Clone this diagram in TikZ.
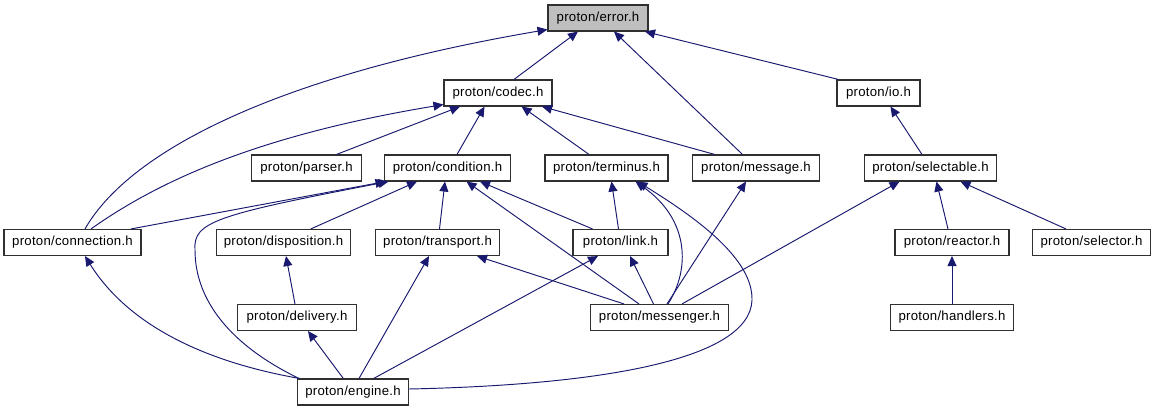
\documentclass[tikz,border=0pt]{standalone}
\usepackage{fontspec}
\setmainfont{Liberation Sans}[LetterSpace=2]
\usetikzlibrary{arrows.meta}
\definecolor{edgeblue}{HTML}{191970}
\definecolor{rootgray}{HTML}{BFBFBF}
\definecolor{boxline}{HTML}{303030}
\begin{document}
\begin{tikzpicture}[x=1pt,y=-1pt,
  box/.style={draw=boxline,line width=1.1pt,fill=white,minimum height=26pt,inner sep=0pt,
    font=\fontsize{13.2}{15}\selectfont},
  rootbox/.style={box,fill=rootgray},
  edge/.style={draw=edgeblue,line width=0.95pt,-{Triangle[length=10pt,width=9pt]}}]
\useasboundingbox[fill=white] (0,0) rectangle (1156,411);
% nodes
\node[rootbox,minimum width=100pt] (error) at (598,18) {proton/error.h};
\node[box,minimum width=108pt] (codec) at (498,93) {proton/codec.h};
\node[box,minimum width=83pt] (io) at (878.5,93) {proton/io.h};
\node[box,minimum width=110pt] (parser) at (306.5,168) {proton/parser.h};
\node[box,minimum width=126pt] (condition) at (447.5,168) {proton/condition.h};
\node[box,minimum width=123pt] (terminus) at (606.5,168) {proton/terminus.h};
\node[box,minimum width=127pt] (message) at (756,168) {proton/message.h};
\node[box,minimum width=132pt] (selectable) at (930.5,168) {proton/selectable.h};
\node[box,minimum width=137pt] (connection) at (72.5,242.5) {proton/connection.h};
\node[box,minimum width=134pt] (disposition) at (283.5,242.5) {proton/disposition.h};
\node[box,minimum width=124pt] (transport) at (437.5,242.5) {proton/transport.h};
\node[box,minimum width=95pt] (link) at (620.5,242.5) {proton/link.h};
\node[box,minimum width=114pt] (reactor) at (952,242.5) {proton/reactor.h};
\node[box,minimum width=118pt] (selector) at (1091.5,242.5) {proton/selector.h};
\node[box,minimum width=119pt] (delivery) at (297,317.5) {proton/delivery.h};
\node[box,minimum width=137.6pt] (messenger) at (659.5,317.5) {proton/messenger.h};
\node[box,minimum width=123pt] (handlers) at (952,317.5) {proton/handlers.h};
\node[box,minimum width=111pt] (engine) at (353,392) {proton/engine.h};
% edges into error
\draw[edge] ([xshift=16pt]codec.north) -- ([xshift=-20pt]error.south);
\draw[edge] ([xshift=-13.5pt]message.north) -- ([xshift=16pt]error.south);
\draw[edge] ([xshift=-40pt]io.north) -- ([xshift=47pt]error.south);
\draw[edge] ([xshift=12.5pt]connection.north) .. controls (130,150) and (280,75) .. ([yshift=2pt]error.south west);
% edges into codec
\draw[edge] ([xshift=30pt]parser.north) -- ([xshift=-38pt]codec.south);
\draw[edge] ([xshift=9.5pt]condition.north) -- ([xshift=-13.5pt]codec.south);
\draw[edge] ([xshift=-17.5pt]terminus.north) -- ([xshift=23.6pt]codec.south);
\draw[edge] ([xshift=-41.3pt]message.north) -- ([xshift=44pt]codec.south);
\draw[edge] ([xshift=18.5pt]connection.north) .. controls (160,180) and (260,135) .. ([yshift=2pt]codec.south west);
% io
\draw[edge] ([xshift=-8.5pt]selectable.north) -- ([xshift=12pt]io.south);
% edges into condition
\draw[edge] ([xshift=58.5pt]connection.north) -- ([xshift=-62pt]condition.south);
\draw[edge] ([xshift=27.3pt]disposition.north) -- ([xshift=-30.5pt]condition.south);
\draw[edge] ([xshift=2pt]transport.north) -- ([xshift=-2.5pt]condition.south);
\draw[edge] ([xshift=-28pt]link.north) -- ([xshift=32.5pt]condition.south);
\draw[edge] ([xshift=-20.5pt]messenger.north) -- ([xshift=19pt]condition.south);
\draw[edge] ([xshift=-54pt]engine.north) .. controls (230,345) and (195,300) .. (195,250)
  .. controls (193,222) and (215,215) .. ([xshift=-59pt]condition.south);
% edges into terminus
\draw[edge] ([xshift=-2pt]link.north) -- ([xshift=5pt]terminus.south);
\draw[edge] ([xshift=8.5pt]messenger.north) .. controls (690,270) and (690,220) .. ([xshift=29pt]terminus.south);
\draw[edge] ([yshift=3pt]engine.east) .. controls (600,385) and (750,360) .. (752,300)
  .. controls (753,260) and (700,220) .. ([xshift=31pt]terminus.south);
% message, selectable, reactor
\draw[edge] ([xshift=7.5pt]messenger.north) -- ([xshift=-10pt]message.south);
\draw[edge] ([xshift=22.5pt]messenger.north) -- ([xshift=-31pt]selectable.south);
\draw[edge] ([xshift=-4pt]reactor.north) -- ([xshift=6pt]selectable.south);
\draw[edge] ([xshift=-25.5pt]selector.north) -- ([xshift=30pt]selectable.south);
\draw[edge] (handlers.north) -- (reactor.south);
% lower part
\draw[edge] ([xshift=-2pt]delivery.north) -- ([xshift=2.5pt]disposition.south);
\draw[edge] ([xshift=-9.7pt]engine.north) -- ([xshift=11pt]delivery.south);
\draw[edge] ([xshift=6pt]engine.north) -- ([xshift=-8.5pt]transport.south);
\draw[edge] ([xshift=20.7pt]engine.north) -- ([xshift=-22.5pt]link.south);
\draw[edge] ([xshift=2.5pt]engine.north west) .. controls (195,360) and (125,320) .. ([xshift=12.5pt]connection.south);
\draw[edge] ([xshift=-35.5pt]messenger.north) -- ([xshift=39.5pt]transport.south);
\draw[edge] ([xshift=-6pt]messenger.north) -- ([xshift=9.5pt]link.south);
\end{tikzpicture}
\end{document}
